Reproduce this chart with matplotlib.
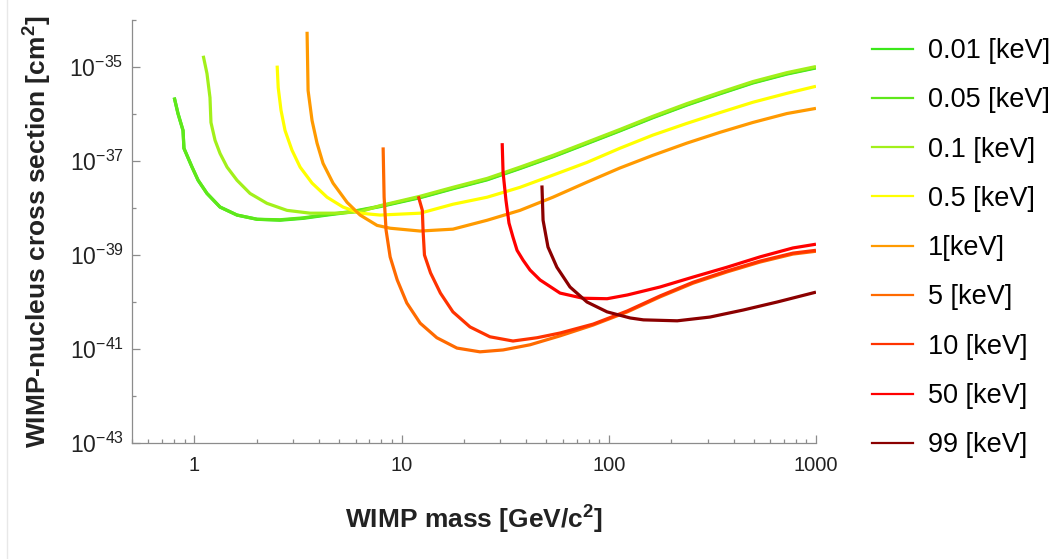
import matplotlib.pyplot as plt
from matplotlib.lines import Line2D

plt.rcParams['font.family'] = ['Liberation Sans', 'DejaVu Sans']
plt.rcParams['mathtext.fontset'] = 'custom'
plt.rcParams['mathtext.rm'] = 'Liberation Sans'
plt.rcParams['mathtext.it'] = 'Liberation Sans:italic'
plt.rcParams['mathtext.bf'] = 'Liberation Sans:bold'
plt.rcParams['mathtext.default'] = 'regular'

# WIMP mass [GeV/c^2] and log10 of the cross section [cm^2] for each threshold
mass_001 = [0.80, 0.834, 0.882, 0.891, 0.975, 1.043, 1.151, 1.331, 1.607, 2.01, 2.59, 3.35,
            4.37, 5.83, 7.88, 12.3, 17.7, 25.9, 37.3, 53.8, 78.5, 113, 163, 238, 344, 496,
            724, 1000]
logsig_001 = [-35.65, -35.99, -36.35, -36.73, -37.13, -37.41, -37.69, -37.98, -38.15, -38.24,
              -38.26, -38.22, -38.15, -38.08, -37.97, -37.78, -37.59, -37.40, -37.16, -36.91,
              -36.63, -36.36, -36.08, -35.81, -35.57, -35.34, -35.15, -35.02]

mass_005 = [0.80, 0.834, 0.882, 0.891, 0.975, 1.043, 1.151, 1.331, 1.607, 2.01, 2.59, 3.35,
            4.37, 5.83, 7.88, 12.3, 17.7, 25.9, 37.3, 53.8, 78.5, 113, 163, 238, 344, 496,
            724, 1000]
logsig_005 = [-35.65, -35.99, -36.35, -36.73, -37.13, -37.41, -37.69, -37.98, -38.15, -38.24,
              -38.25, -38.21, -38.14, -38.07, -37.96, -37.77, -37.58, -37.39, -37.15, -36.90,
              -36.62, -36.35, -36.07, -35.80, -35.56, -35.33, -35.14, -35.01]

mass_01 = [1.104, 1.151, 1.19, 1.203, 1.259, 1.331, 1.439, 1.607, 1.857, 2.24, 2.80, 3.62,
           4.88, 6.31, 7.88, 12.3, 17.7, 25.9, 37.3, 53.8, 78.5, 113, 163, 238, 344, 496,
           724, 1000]
logsig_01 = [-34.76, -35.14, -35.65, -36.18, -36.56, -36.84, -37.13, -37.41, -37.69, -37.90,
             -38.05, -38.11, -38.11, -38.08, -37.95, -37.75, -37.56, -37.37, -37.13, -36.88,
             -36.60, -36.33, -36.05, -35.78, -35.54, -35.31, -35.12, -34.99]

mass_05 = [2.51, 2.54, 2.62, 2.74, 2.96, 3.24, 3.70, 4.37, 5.22, 6.31, 7.88, 12.3, 17.7,
           25.9, 37.3, 53.8, 78.5, 113, 163, 238, 344, 496, 724, 1000]
logsig_05 = [-34.97, -35.44, -35.92, -36.35, -36.77, -37.13, -37.47, -37.77, -37.98, -38.11,
             -38.15, -38.11, -37.92, -37.77, -37.56, -37.30, -37.03, -36.73, -36.45, -36.20,
             -35.97, -35.75, -35.56, -35.41]

mass_1 = [3.50, 3.54, 3.70, 3.91, 4.18, 4.67, 5.46, 6.31, 7.62, 8.81, 12.3, 17.7, 25.9, 37.3,
          53.8, 78.5, 113, 163, 238, 344, 496, 724, 1000]
logsig_1 = [-34.25, -35.50, -36.14, -36.62, -37.05, -37.47, -37.88, -38.15, -38.37, -38.43,
            -38.49, -38.45, -38.26, -38.05, -37.77, -37.45, -37.15, -36.88, -36.62, -36.39,
            -36.18, -35.99, -35.88]

mass_5 = [8.15, 8.24, 8.42, 8.81, 9.53, 10.6, 12.3, 14.8, 18.5, 23.9, 30.9, 41.7, 58.2, 84.1,
          123, 177, 255, 372, 537, 774, 1000]
logsig_5 = [-36.71, -37.77, -38.47, -39.04, -39.53, -40.02, -40.45, -40.76, -40.98, -41.06,
            -41.02, -40.91, -40.72, -40.49, -40.21, -39.89, -39.60, -39.36, -39.15, -38.98,
            -38.92]

mass_10 = [12.05, 12.6, 12.7, 12.9, 13.8, 15.4, 17.7, 21.4, 26.7, 34.5, 45.1, 58.2, 84.1, 123,
           177, 255, 372, 537, 774, 1000]
logsig_10 = [-37.75, -38.05, -38.47, -39.00, -39.38, -39.81, -40.21, -40.53, -40.74, -40.83,
             -40.76, -40.66, -40.47, -40.19, -39.87, -39.58, -39.34, -39.13, -38.96, -38.90]

mass_50 = [30.6, 30.9, 31.9, 33.0, 34.5, 36.1, 38.6, 41.7, 46.6, 58.2, 75.1, 98.2, 123, 177,
           255, 372, 537, 774, 1000]
logsig_50 = [-36.62, -37.24, -37.83, -38.32, -38.62, -38.90, -39.11, -39.32, -39.53, -39.81,
             -39.92, -39.93, -39.85, -39.68, -39.47, -39.26, -39.04, -38.85, -38.77]

mass_99 = [47.6, 48.2, 50.9, 56.2, 65.0, 78.5, 98.2, 127, 147, 214, 308, 446, 650, 1000]
logsig_99 = [-37.52, -38.26, -38.83, -39.26, -39.68, -40.00, -40.21, -40.34, -40.38, -40.40,
             -40.32, -40.17, -40.00, -39.79]

labels = ['0.01 [keV]', '0.05 [keV]', '0.1 [keV]', '0.5 [keV]', '1[keV]',
          '5 [keV]', '10 [keV]', '50 [keV]', '99 [keV]']
colors = ['#3be81a', '#5ee81a', '#a2f01a', '#ffff00', '#ff9a00',
          '#ff6a00', '#ff3300', '#ff0000', '#8b0000']
masses = [mass_001, mass_005, mass_01, mass_05, mass_1, mass_5, mass_10, mass_50, mass_99]
logsigs = [logsig_001, logsig_005, logsig_01, logsig_05, logsig_1, logsig_5, logsig_10,
           logsig_50, logsig_99]

fig = plt.figure(figsize=(10.59, 5.59), dpi=100)
ax = fig.add_axes([0.1246, 0.2075, 0.6459, 0.7567])

for m, ls, c in zip(masses, logsigs, colors):
    ax.plot(m, [10.0 ** v for v in ls], color=c, lw=2.3, solid_capstyle='butt',
            solid_joinstyle='round')

ax.set_xscale('log')
ax.set_yscale('log')
ax.set_xlim(0.5, 1000)
ax.set_ylim(1e-43, 1e-34)

axis_gray = '#8c8c8c'
for side in ['top', 'right']:
    ax.spines[side].set_visible(False)
for side in ['left', 'bottom']:
    ax.spines[side].set_color(axis_gray)
    ax.spines[side].set_linewidth(0.9)

ax.set_xticks([1, 10, 100, 1000])
ax.set_xticklabels(['1', '10', '100', '1000'])
ax.set_xticks([k * 10.0 ** e for e in range(-1, 3) for k in range(2, 10)
               if 0.5 <= k * 10.0 ** e < 1000], minor=True)
ax.set_yticks([10.0 ** e for e in range(-43, -34, 2)])
ax.set_yticklabels([r'$10^{%d}$' % e for e in range(-43, -34, 2)])
ax.set_yticks([10.0 ** e for e in range(-42, -33, 2)], minor=True)
ax.set_yticklabels([], minor=True)

ax.tick_params(which='both', direction='in', color=axis_gray, width=0.9,
               labelcolor='#222222')
ax.tick_params(which='major', length=5.5)
ax.tick_params(which='minor', length=2.8)
ax.tick_params(axis='x', which='major', pad=9, labelsize=14.5)
ax.tick_params(axis='y', which='major', pad=6, labelsize=16.5)

ax.set_xlabel(r'WIMP mass [GeV/c$^{\mathbf{2}}$]', fontsize=19, fontweight='bold',
              color='#222222', labelpad=21)
ax.set_ylabel(r'WIMP-nucleus cross section [cm$^{\mathbf{2}}$]', fontsize=19,
              fontweight='bold', color='#222222', labelpad=11)

handles = [Line2D([], [], color=c, lw=1.6) for c in colors]
ax.legend(handles, labels, loc='upper left', bbox_to_anchor=(0.8234, 0.932),
          bbox_transform=fig.transFigure, frameon=False, fontsize=19.5,
          handlelength=1.5, handletextpad=0.55, labelspacing=0.86,
          borderpad=0, borderaxespad=0)

fig.add_artist(Line2D([0.0065, 0.0065], [0, 1], transform=fig.transFigure,
                      color='#e8e8e8', lw=1))

fig.savefig('out.png', dpi=100)
